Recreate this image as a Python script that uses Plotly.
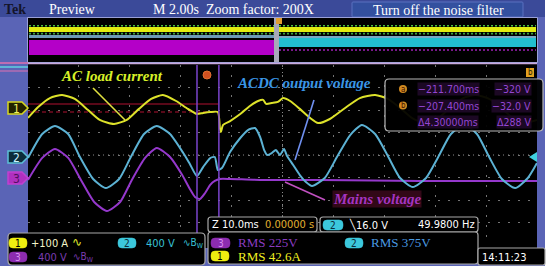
import plotly.graph_objects as go

# ---------------- data ----------------
# time axis: ms relative to the centre of the zoom window (10 ms/div)
t_ch1 = [-50.0, -48.0, -45.7, -43.3, -40.8, -38.2, -35.9, -33.1, -30.6, -28.2,
         -25.8, -23.5, -20.9, -18.6, -16.8, -15.6, -14.2, -12.7, -12.3, -12.1,
         -11.7, -10.3, -8.3, -6.4, -4.8, -3.8, -3.2, -2.1, -0.9, 0.1,
         1.5, 3.4, 5.4, 7.0, 9.3, 12.3, 15.2, 18.2, 20.7, 23.1,
         25.4, 27.8, 30.4, 32.9, 35.5, 38.0, 40.6, 42.9, 45.3, 47.6, 50.0]
i_ch1 = [-44, 4, 44, 58, 40, -9, -53, -71, -53, -4,
         40, 58, 31, -4, -27, -22, -18, -18, -89, -107,
         -76, -58, -27, 9, 31, 36, 18, 22, 27, 44,
         31, -4, -44, -67, -49, 0, 44, 58, 40, 0,
         -44, -67, -49, 0, 44, 58, 40, 0, -44, -67, -53]          # A (AC load current)

t_ch2 = [-50.0, -47.2, -44.7, -42.1, -39.8, -37.2, -34.7, -32.1, -29.8, -27.2,
         -24.7, -22.1, -19.5, -18.2, -16.8, -15.6, -14.2, -13.3, -12.7, -11.9,
         -10.3, -8.3, -6.8, -5.4, -4.4, -3.6, -3.0, -2.1, -1.3, -0.5,
         0.3, 0.9, 2.1, 3.4, 4.6, 5.8, 8.3, 10.7, 13.3, 15.6,
         18.2, 20.7, 23.1, 25.6, 28.2, 30.6, 33.1, 35.7, 38.2, 40.6,
         43.1, 45.7, 48.2, 50.0]
v_ch2 = [-18, 409, 551, 409, 0, -391, -551, -391, 0, 409,
         551, 409, 71, -124, -338, -178, -18, 0, -231, -196,
         89, 338, 480, 516, 356, 124, 36, 71, 124, 36,
         142, 18, -142, -320, -444, -516, -373, 0, 391, 569,
         409, 18, -373, -533, -373, 0, 409, 569, 409, 0,
         -391, -551, -373, -107]                                    # V (ACDC output voltage)

t_ch3 = [-50.0, -47.2, -44.7, -42.1, -39.6, -37.0, -34.5, -31.9, -29.6, -27.0,
         -24.7, -22.1, -19.7, -18.2, -17.2, -16.2, -15.2, -14.2, -13.3, -12.3,
         -10.3, -4.4, 7.4, 27.0, 50.0]
v_ch3 = [-36, 356, 516, 356, -36, -427, -587, -427, -36, 356,
         533, 373, 53, -196, -338, -373, -267, -124, -53, -18,
         -18, -36, -36, -53, -53]                                   # V (mains voltage)

ch_scale = {"1": 100, "2": 400, "3": 400}          # units per division
ch_offset = {"1": 2.09, "2": -0.09, "3": -1.02}    # ground marker, divisions
cursor_t = [-16.8, -12.5]
cursor_rows = [("a", "−211.700ms", "−320 V"),
               ("b", "−207.400ms", "−32.0 V"),
               ("", "Δ4.30000ms", "Δ288 V")]

C1, C2, C3 = "#dde22a", "#5cb2d4", "#9538cc"
SERIF = "Liberation Serif, Times New Roman, serif"
NARROW = "Liberation Sans Narrow, DejaVu Sans Condensed, Arial Narrow, sans-serif"

fig = go.Figure()
fig.add_trace(go.Scatter(x=[0], y=[0], xaxis="x", yaxis="y", mode="markers",
                         marker=dict(size=1, opacity=0), hoverinfo="skip", showlegend=False))


def to_div(vals, ch):
    return [v / ch_scale[ch] + ch_offset[ch] for v in vals]


for t, v, ch, col in [(t_ch3, v_ch3, "3", C3), (t_ch2, v_ch2, "2", C2), (t_ch1, i_ch1, "1", C1)]:
    fig.add_trace(go.Scatter(x=t, y=to_div(v, ch), xaxis="x2", yaxis="y2", mode="lines",
                             line=dict(color=col, width=2, shape="spline", smoothing=0.6),
                             hoverinfo="skip", showlegend=False))

shapes = []
anns = []


def rect(x0, y0, x1, y1, fill, layer="below", lc=None, lw=0):
    shapes.append(dict(type="rect", xref="x", yref="y", x0=x0, y0=y0, x1=x1, y1=y1,
                       fillcolor=fill, line=dict(width=lw, color=lc or fill), layer=layer))


def seg(x0, y0, x1, y1, color, width=1.5, dash="solid", layer="above"):
    shapes.append(dict(type="line", xref="x", yref="y", x0=x0, y0=y0, x1=x1, y1=y1,
                       line=dict(color=color, width=width, dash=dash), layer=layer))


def rr(x0, y0, x1, y1, r):
    return (f"M{x0 + r},{y0} L{x1 - r},{y0} Q{x1},{y0} {x1},{y0 + r} L{x1},{y1 - r} "
            f"Q{x1},{y1} {x1 - r},{y1} L{x0 + r},{y1} Q{x0},{y1} {x0},{y1 - r} "
            f"L{x0},{y0 + r} Q{x0},{y0} {x0 + r},{y0} Z")


def box(x0, y0, x1, y1, r=3, fill="#000000", lc="#a8a8a8", lw=1.2, layer="above"):
    shapes.append(dict(type="path", xref="x", yref="y", path=rr(x0, y0, x1, y1, r),
                       fillcolor=fill, line=dict(color=lc, width=lw), layer=layer))


def txt(x, y, s, color="white", size=12, family=NARROW, xa="left", bg=None):
    a = dict(x=x, y=y, xref="x", yref="y", text=s, showarrow=False, xanchor=xa,
             yanchor="middle", font=dict(color=color, size=size, family=family), borderpad=0)
    if bg:
        a["bgcolor"] = bg
    anns.append(a)


def pill(x0, y0, x1, y1, fill, label, tcol):
    box(x0, y0, x1, y1, r=4, fill=fill, lc=fill, lw=0.5)
    txt((x0 + x1) / 2, (y0 + y1) / 2 + 0.5, label, tcol, 10, NARROW, "center")


# ---------------- background frame ----------------
rect(0, 0, 545, 266, "#5a64b6")            # blue bezel
rect(0, 0, 545, 17, "#3b4a99")             # header
box(352, 2, 523, 17, r=1, fill="#33509f", lc="#5a70c0", lw=1, layer="below")
rect(28, 18, 537, 62, "#000000")           # overview strip
rect(28, 63, 537, 248, "#000000")          # main screen
shapes.append(dict(type="rect", xref="x", yref="y", x0=27.5, y0=17.5, x1=537.5, y1=62.5,
                   line=dict(color="#9aa0d8", width=1), layer="below"))

# overview strip content
for xa, xb in [(29, 274), (279, 536)]:
    rect(xa, 27, xb, 32, "#e2ec10")
    seg(xa, 25.8, xb, 25.8, "#4cc040", 1.4, "2px,2px", "below")
    seg(xa, 33.6, xb, 33.6, "#3aa040", 1.6, "2px,2px", "below")
rect(29, 35, 274, 38, "#6c98b8")
rect(29, 40, 274, 55, "#b400c8")
rect(279, 36, 536, 38, "#7aa8c4")
rect(279, 38, 536, 47, "#22bfd0")
seg(279, 50, 536, 50, "#a020b8", 1.6, "2px,2px", "below")
rect(274, 18, 279, 62, "#a8a8b8")
rect(276, 18, 282, 24, "#e0a030")

# top line of main screen and left streaks
seg(28, 63.5, 537, 63.5, "#c8a8dc", 1.5, layer="below")
seg(0, 63, 28, 63, "#e070b0", 1.5, layer="below")
seg(0, 67, 28, 67, "#60d0e0", 1.5, layer="below")
seg(0, 71, 28, 71, "#e070b0", 1.0, layer="below")

# red reference lines
seg(28, 104, 218, 104, "#b01030", 1, layer="below")
seg(28, 112, 218, 112, "#b01030", 1, "4px,3px", layer="below")

# centre graticule lines
shapes.append(dict(type="line", xref="x2", yref="y2", x0=0, x1=0, y0=-4, y1=4,
                   line=dict(color="#8c8c8c", width=1, dash="1px,3px"), layer="below"))
shapes.append(dict(type="line", xref="x2", yref="y2", x0=-50, x1=50, y0=0, y1=0,
                   line=dict(color="#8c8c8c", width=1, dash="1px,4px"), layer="below"))

# cursors
for ct in cursor_t:
    shapes.append(dict(type="line", xref="x2", yref="y2", x0=ct, x1=ct, y0=-4, y1=4.09,
                       line=dict(color="#7a44cc", width=1.5), layer="above"))
shapes.append(dict(type="circle", xref="x", yref="y", x0=203, y0=71, x1=211, y1=79,
                   fillcolor="#d05020", line=dict(color="#e07030", width=1), layer="above"))
rect(526, 68, 534, 77, "#e0a020", layer="above")
txt(530, 72.5, "b", "#202000", 8, NARROW, "center")

# trigger level arrow
shapes.append(dict(type="path", xref="x", yref="y", path="M537,152 L529,157 L537,162 Z",
                   fillcolor="#40d0e0", line=dict(width=0), layer="above"))

# channel ground markers
for y, fill, lc, lab, tc in [(108, "#222200", "#d8d820", "1", "#f0f060"),
                             (157, "#0c2c3a", "#5cc0d8", "2", "#c8f0ff"),
                             (178, "#b030c0", "#c040d0", "3", "#501060")]:
    shapes.append(dict(type="path", xref="x", yref="y",
                       path=f"M8,{y - 6} L22,{y - 6} L28,{y} L22,{y + 6} L8,{y + 6} Z",
                       fillcolor=fill, line=dict(color=lc, width=1.5), layer="above"))
    txt(16, y + 0.5, lab, tc, 12, NARROW, "center")

# annotation arrows
seg(93, 88, 125, 120, "#e0e040", 1.6)
seg(314, 100, 295, 160, "#7090f0", 1.6)
seg(285, 182, 325, 200, "#c050c0", 1.6)

# cursor read-out box
box(385, 79, 543, 131, r=4, fill="rgba(0,0,0,0.95)", lc="#b8b8b8", lw=1.2)
for k, (lab, tval, vval) in enumerate(cursor_rows):
    y = 89 + k * 16.5
    if lab:
        shapes.append(dict(type="circle", xref="x", yref="y", x0=399, y0=y - 4, x1=407, y1=y + 4,
                           fillcolor="#d08a20", line=dict(width=0), layer="above"))
        txt(403, y, lab, "#401000", 8, NARROW, "center")
    txt(417, y, tval, "#9446d2", 10.5, NARROW, "left", bg="#1c0824")
    txt(532, y, vval, "#9446d2", 10.5, NARROW, "right", bg="#1c0824")

# bottom boxes
box(8, 233, 205, 265, r=4)
pill(9, 238, 27, 248, "#eeee10", "1", "#000000")
txt(30, 243, "+100 A", "#f4f4c8", 11)
txt(71, 242, "∿", C1, 12, "DejaVu Sans")
pill(118, 238, 136, 248, "#3cc8dc", "2", "#0c2c3a")
txt(145, 243, "400 V", "#38c0d4", 11)
txt(182, 243, "∿B<sub>W</sub>", "#38c0d4", 10, NARROW)
pill(9, 252, 27, 262, "#8c2cb0", "3", "#d890f0")
txt(37, 257, "400 V", "#7a3cb0", 11)
txt(72, 257, "∿B<sub>W</sub>", "#7a3cb0", 10, NARROW)

box(208, 217, 317, 232, r=3)
txt(211, 224.5, "Z 10.0ms", "white", 11)
txt(315, 224.5, "0.00000 s", "#e0b030", 11, NARROW, "right")
box(320, 217, 478, 232, r=3)
pill(323, 220, 343, 230, "#3cc8dc", "2", "#0c2c3a")
txt(348, 224.5, "╲16.0 V", "white", 11)
txt(476, 224.5, "49.9800 Hz", "white", 11, NARROW, "right")

box(208, 232, 478, 264, r=3)
pill(211, 238, 230, 248, "#8c2cb0", "3", "#d890f0")
txt(237, 242.5, "RMS 225V", "#8a3cc0", 13, SERIF)
pill(345, 238, 363, 248, "#3cc8dc", "2", "#0c2c3a")
txt(370, 242.5, "RMS 375V", "#4a9ae0", 13, SERIF)
pill(211, 251, 229, 261, "#eeee10", "1", "#000000")
txt(237, 256.5, "RMS 42.6A", "#f0f020", 13, SERIF)

box(478, 248, 545, 265, r=2)
txt(481, 257, "14:11:23", "white", 11)

# header text
txt(3, 9, "<b>Tek</b>", "#14142a", 14, SERIF)
txt(48, 9.5, "Preview", "white", 14, SERIF)
txt(152, 9.5, "M 2.00s\u00a0 Zoom factor: 200X", "white", 14, SERIF)
txt(438, 10, "Turn off the noise filter", "white", 14, SERIF, "center")

# chart labels
txt(60, 76, "<b><i>AC load current</i></b>", "#d8f028", 15, SERIF)
txt(236, 83, "<b><i>ACDC output voltage</i></b>", "#3a96e6", 15, SERIF)
txt(332, 199, "<b><i>Mains voltage</i></b>", "#a434c0", 15, SERIF, bg="#320818")

fig.update_layout(
    width=550, height=270, margin=dict(l=0, r=0, t=0, b=0),
    paper_bgcolor="white", plot_bgcolor="rgba(0,0,0,0)", showlegend=False,
    xaxis=dict(range=[0, 550], visible=False, domain=[0, 1], fixedrange=True),
    yaxis=dict(range=[270, 0], visible=False, domain=[0, 1], fixedrange=True),
    xaxis2=dict(domain=[28 / 550, 537 / 550], range=[-50, 50], anchor="y2", tick0=-50, dtick=10,
                showgrid=True, gridcolor="#747474", griddash="2px,8px", gridwidth=1,
                zeroline=False, showticklabels=False, ticks="", showline=False, fixedrange=True),
    yaxis2=dict(domain=[25 / 270, 205 / 270], range=[-4, 4], anchor="x2", tick0=-4, dtick=1,
                showgrid=True, gridcolor="#747474", griddash="2px,8px", gridwidth=1,
                zeroline=False, showticklabels=False, ticks="", showline=False, fixedrange=True),
    shapes=shapes, annotations=anns,
)

fig.write_html("out.html", config={"displayModeBar": False},
               post_script="document.body.style.margin='0px';document.body.style.overflow='hidden';")
